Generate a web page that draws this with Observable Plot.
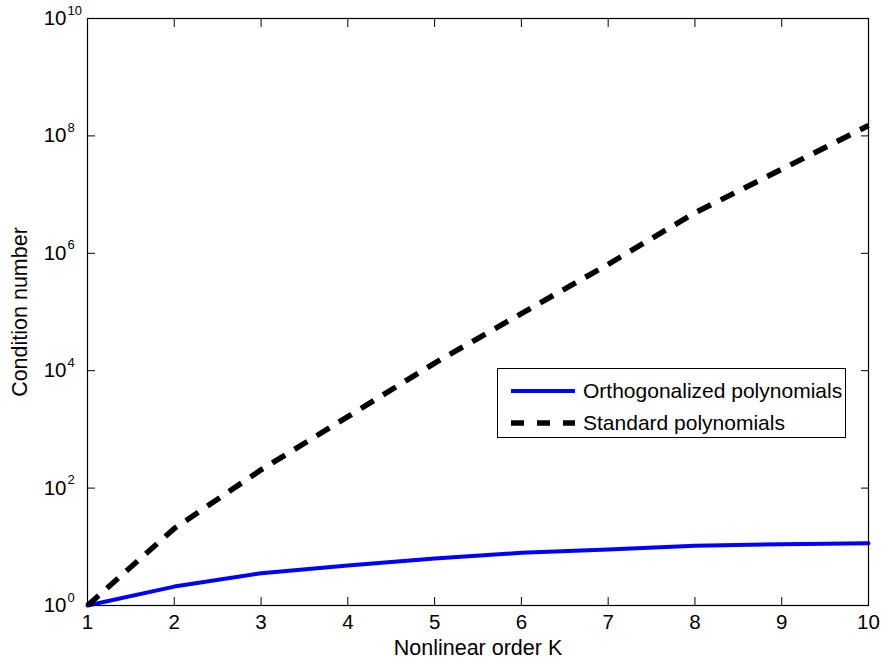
<!DOCTYPE html>
<html>
<head>
<meta charset="utf-8">
<script src="https://cdn.jsdelivr.net/npm/d3@7"></script>
<script src="https://cdn.jsdelivr.net/npm/@observablehq/plot@0.6"></script>
<style>
  body { margin: 0; background: #fff; }
  #wrap { position: relative; width: 884px; height: 666px; font-family: "Liberation Sans", Arial, Helvetica, sans-serif; }
  #legend {
    position: absolute; left: 497px; top: 368px; width: 349px; height: 70px;
    border: 1px solid #000; background: #fff; box-sizing: border-box;
  }
  #legend .item { position: absolute; left: 0; height: 30px; display: flex; align-items: center; }
  #legend svg { margin-left: 13px; margin-right: 8px; }
  #legend span { font-size: 21px; color: #000; }
</style>
</head>
<body>
<div id="wrap"></div>
<script>
// Nonlinear order K
const orders = [1, 2, 3, 4, 5, 6, 7, 8, 9, 10];
// Condition numbers for each basis
const orthogonalized = [1, 2.1, 3.55, 4.8, 6.3, 7.9, 9.0, 10.4, 11.1, 11.5];
const standard = [1, 20.5, 205, 1650, 1.35e4, 9.4e4, 6.5e5, 4.9e6, 2.7e7, 1.5e8];
// Axis ticks
const xTicks = [1, 2, 3, 4, 5, 6, 7, 8, 9, 10];
const yTickExponents = [0, 2, 4, 6, 8, 10];
const seriesNames = ["Orthogonalized polynomials", "Standard polynomials"];

const yTicks = yTickExponents.map(e => 10 ** e);
const orthoData = orders.map((k, i) => ({k, v: orthogonalized[i]}));
const stdData = orders.map((k, i) => ({k, v: standard[i]}));

const font = "Liberation Sans, Arial, Helvetica, sans-serif";
const dash = "15,11";

const chart = Plot.plot({
  width: 884,
  height: 666,
  marginLeft: 87,
  marginRight: 16,
  marginTop: 18,
  marginBottom: 61,
  style: {fontFamily: font, background: "#fff", color: "#000"},
  x: {domain: [1, 10], axis: null},
  y: {type: "log", domain: [1, 1e10], axis: null},
  marks: [
    // inward ticks on all four sides
    Plot.axisX(xTicks, {anchor: "bottom", tickSize: 8, dy: -8, text: null, label: null, stroke: "#000"}),
    Plot.axisX(xTicks, {anchor: "top", tickSize: 8, dy: 8, text: null, label: null, stroke: "#000"}),
    Plot.axisY(yTicks, {anchor: "left", tickSize: 8, dx: 8, text: null, label: null, stroke: "#000"}),
    Plot.axisY(yTicks, {anchor: "right", tickSize: 8, dx: -8, text: null, label: null, stroke: "#000"}),
    // x tick labels
    Plot.text(xTicks, {x: d => d, frameAnchor: "bottom", dy: 23, text: d => String(d), fontSize: 20.5, fill: "#000"}),
    // y tick labels: base and exponent
    Plot.text(yTicks, {y: d => d, frameAnchor: "left", textAnchor: "end", dx: -21, text: () => "10", fontSize: 20.5, fill: "#000"}),
    Plot.text(yTicks, {y: d => d, frameAnchor: "left", textAnchor: "start", dx: -20, dy: -8, text: (d, i) => String(yTickExponents[i]), fontSize: 13, fill: "#000"}),
    // axis labels
    Plot.text(["Nonlinear order K"], {frameAnchor: "bottom", textAnchor: "middle", dy: 49, text: d => d, fontSize: 21.5, fill: "#000"}),
    Plot.text(["Condition number"], {frameAnchor: "left", textAnchor: "middle", dx: -67, rotate: -90, text: d => d, fontSize: 21.5, fill: "#000"}),
    // series
    Plot.line(orthoData, {x: "k", y: "v", stroke: "#0000ff", strokeWidth: 4}),
    Plot.line(stdData, {x: "k", y: "v", stroke: "#000", strokeWidth: 5.5, strokeDasharray: dash, strokeLinecap: "butt"}),
    Plot.frame({stroke: "#000", strokeWidth: 1.2})
  ]
});

const wrap = document.getElementById("wrap");
wrap.appendChild(chart);

// legend box inside the axes
const legend = document.createElement("div");
legend.id = "legend";
const swatches = [
  {stroke: "#0000ff", width: 4, dash: null},
  {stroke: "#000", width: 5.5, dash: "13,13"}
];
seriesNames.forEach((name, i) => {
  const item = document.createElement("div");
  item.className = "item";
  item.style.top = (7 + i * 32) + "px";
  const s = swatches[i];
  item.innerHTML = `<svg width="64" height="10"><line x1="0" x2="64" y1="5" y2="5" stroke="${s.stroke}" stroke-width="${s.width}" ${s.dash ? `stroke-dasharray="${s.dash}"` : ""}/></svg><span>${name}</span>`;
  legend.appendChild(item);
});
wrap.appendChild(legend);
</script>
</body>
</html>
